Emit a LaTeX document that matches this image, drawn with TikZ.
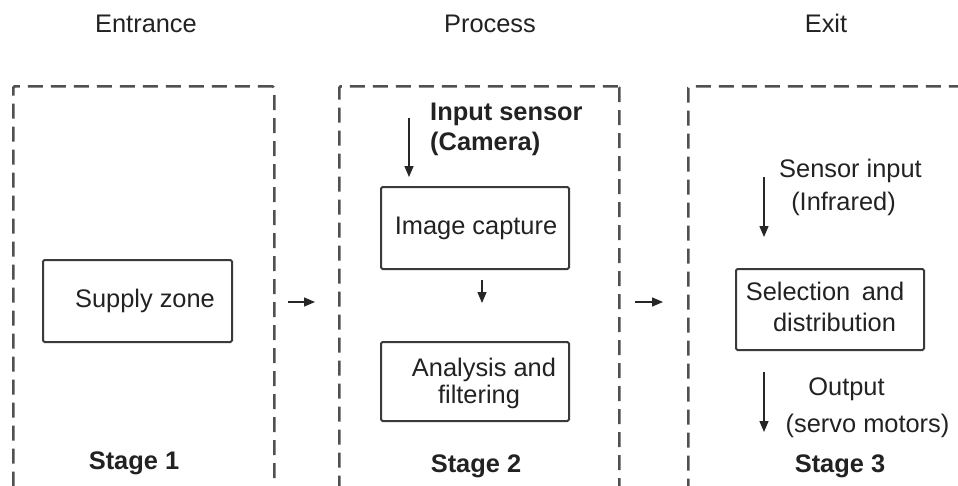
\documentclass[tikz,border=0pt]{standalone}
\usepackage{fontspec}
\setmainfont{Liberation Sans}
\usetikzlibrary{arrows.meta}
\definecolor{txt}{HTML}{222222}
\definecolor{frm}{HTML}{505050}
\definecolor{bxc}{HTML}{3A3A3A}
\begin{document}
\begin{tikzpicture}[x=1pt,y=-1pt,
  lbl/.style={font=\fontsize{25.4}{30}\selectfont, text=txt, inner sep=0pt, anchor=base},
  blbl/.style={lbl, font=\fontsize{25.4}{30}\selectfont\bfseries},
  frame/.style={draw=frm, line width=2.5pt, dash pattern=on 15pt off 8pt, rounded corners=1.5pt, inner sep=0pt, anchor=north west},
  box/.style={draw=bxc, line width=2pt, rounded corners=1.5pt, inner sep=0pt},
  arr/.style={draw=black!85, line width=1.4pt, -{Triangle[length=11pt,width=9pt]}},
]
\useasboundingbox (0,0) rectangle (958,485);
\clip (0,0) rectangle (958,485);
\fill[white] (0,0) rectangle (958,485);

% headings
\node[lbl] (hin) at (146,32) {Entrance};
\node[lbl] (hproc) at (490,32) {Process};
\node[lbl] (hexit) at (826,32) {Exit};

% stage frames (bottom edge lies below the picture)
\node[frame, minimum width=261pt, minimum height=420pt] (s1) at (12,85) {};
\node[frame, minimum width=280pt, minimum height=420pt] (s2) at (338,85) {};
\node[frame, minimum width=300pt, minimum height=420pt] (s3) at (687,85) {};

% stage 1
\node[box, minimum width=189pt, minimum height=82pt] (supply) at (137.5,301) {};
\node[lbl] (supplyt) at (145,307) {Supply zone};
\node[blbl] (st1) at (134,469) {Stage 1};

% stage 2
\node[blbl, anchor=base west] (insens) at (430,120) {Input sensor};
\node[blbl, anchor=base west] (cam) at (430,150) {(Camera)};
\node[box, minimum width=188pt, minimum height=82pt] (cap) at (475,228) {};
\node[lbl] (capt) at (476,234) {Image capture};
\node[box, minimum width=188pt, minimum height=79pt] (ana) at (475,381.5) {};
\node[lbl] (anat1) at (484,376) {Analysis and};
\node[lbl] (anat2) at (479,403) {filtering};
\node[blbl] (st2) at (476,472) {Stage 2};

% stage 3
\node[lbl] (sensin) at (850.5,177) {Sensor input};
\node[lbl] (ir) at (843.5,210) {(Infrared)};
\node[box, minimum width=188pt, minimum height=81pt] (sel) at (830,309.5) {};
\node[lbl] (selt1) at (825,300) {Selection\hspace{0.45em}and};
\node[lbl] (selt2) at (834.5,331) {distribution};
\node[lbl] (outt) at (846.5,395) {Output};
\node[lbl] (servo) at (867.5,432) {(servo motors)};
\node[blbl] (st3) at (840,472) {Stage 3};

% connector end points
\coordinate (a12s) at (288,302);
\coordinate (a12e) at (315,302);
\coordinate (a23s) at (635,302);
\coordinate (a23e) at (663,302);
\coordinate (cams) at (409,118);
\coordinate (came) at (409,177);
\coordinate (cas) at (482,280);
\coordinate (cae) at (482,303);
\coordinate (irs) at (764,177);
\coordinate (ire) at (764,237);
\coordinate (outs) at (764,372);
\coordinate (oute) at (764,432);

\draw[arr] (a12s) -- (a12e);
\draw[arr] (a23s) -- (a23e);
\draw[arr] (cams) -- (came);
\draw[arr] (cas) -- (cae);
\draw[arr] (irs) -- (ire);
\draw[arr] (outs) -- (oute);
\end{tikzpicture}
\end{document}
